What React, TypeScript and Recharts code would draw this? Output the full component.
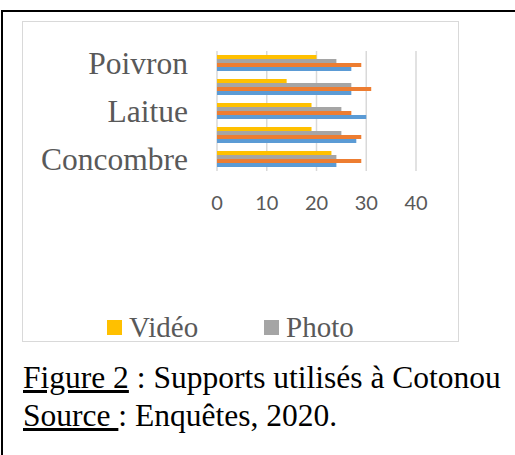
import { BarChart, Bar, XAxis, YAxis, CartesianGrid, Legend } from "recharts";

// categories listed top to bottom (only every other one has a visible label)
const categories = ["Poivron", "Piment", "Laitue", "Gombo", "Concombre"];
const video = [20, 14, 19, 19, 23];
const photo = [24, 27, 25, 25, 24];
const affiche = [29, 31, 27, 29, 29];
const depliant = [27, 27, 30, 28, 24];
const xTicks = [0, 10, 20, 30, 40];
// only these entries fit in the legend box
const legendNames = ["Vidéo", "Photo"];

const data = categories.map((name, i) => ({
  name,
  video: video[i],
  photo: photo[i],
  affiche: affiche[i],
  depliant: depliant[i],
}));

const SERIF = '"Liberation Serif", "Times New Roman", serif';

const renderLegend = (props: any) => {
  const payload: any[] = props.payload || [];
  const items = legendNames
    .map((n) => payload.find((p) => p.value === n))
    .filter(Boolean);
  return (
    <div style={{ display: "flex" }}>
      {items.map((entry: any) => (
        <div
          key={entry.value}
          style={{ display: "flex", alignItems: "center", width: 157 }}
        >
          <span
            style={{
              display: "inline-block",
              width: 15,
              height: 15,
              background: entry.color,
              marginRight: 7,
            }}
          />
          <span
            style={{
              fontFamily: SERIF,
              fontSize: 29,
              color: "#595959",
              lineHeight: "34px",
            }}
          >
            {entry.value}
          </span>
        </div>
      ))}
    </div>
  );
};

export default function App() {
  return (
    <div
      style={{
        position: "absolute",
        left: 0,
        top: 0,
        width: 515,
        height: 455,
        background: "#fff",
        overflow: "hidden",
      }}
    >
      <div
        style={{
          position: "absolute",
          left: 1,
          top: 10,
          width: 530,
          height: 460,
          borderTop: "2px solid #000",
          borderLeft: "2px solid #000",
        }}
      />
      <div
        style={{
          position: "absolute",
          left: 22,
          top: 21,
          width: 435,
          height: 319,
          border: "1px solid #d9d9d9",
        }}
      >
        <BarChart
          width={435}
          height={319}
          data={data}
          layout="vertical"
          margin={{ top: 29, right: 42, bottom: 140, left: 0 }}
          barSize={4}
          barGap={0}
          barCategoryGap={4}
        >
          <CartesianGrid
            horizontal={false}
            stroke="#d9d9d9"
            strokeWidth={1.5}
          />
          <XAxis
            type="number"
            domain={[0, 40]}
            ticks={xTicks}
            axisLine={false}
            tickLine={false}
            tickMargin={19}
            height={30}
            tick={{ fill: "#595959", fontSize: 20, fontFamily: "Lato, sans-serif" }}
          />
          <YAxis
            type="category"
            dataKey="name"
            width={194}
            interval={1}
            axisLine={false}
            tickLine={false}
            tickMargin={23}
            tick={{ fill: "#595959", fontSize: 31.5, fontFamily: SERIF }}
          />
          <Legend
            layout="horizontal"
            verticalAlign="middle"
            align="center"
            content={renderLegend}
            wrapperStyle={{ top: 288, left: 84, width: 330 }}
          />
          <Bar dataKey="video" name="Vidéo" fill="#FFC000" isAnimationActive={false} />
          <Bar dataKey="photo" name="Photo" fill="#A5A5A5" isAnimationActive={false} />
          <Bar
            dataKey="affiche"
            name="Affiche"
            fill="#ED7D31"
            isAnimationActive={false}
          />
          <Bar
            dataKey="depliant"
            name="Dépliant"
            fill="#5B9BD5"
            isAnimationActive={false}
          />
        </BarChart>
      </div>
      <div
        style={{
          position: "absolute",
          left: 23,
          top: 359,
          fontFamily: SERIF,
          fontSize: 31.5,
          lineHeight: "38px",
          color: "#000",
          whiteSpace: "nowrap",
        }}
      >
        <div>
          <u>Figure 2</u> : Supports utilisés à Cotonou
        </div>
        <div>
          <u>Source </u>: Enquêtes, 2020.
        </div>
      </div>
    </div>
  );
}
